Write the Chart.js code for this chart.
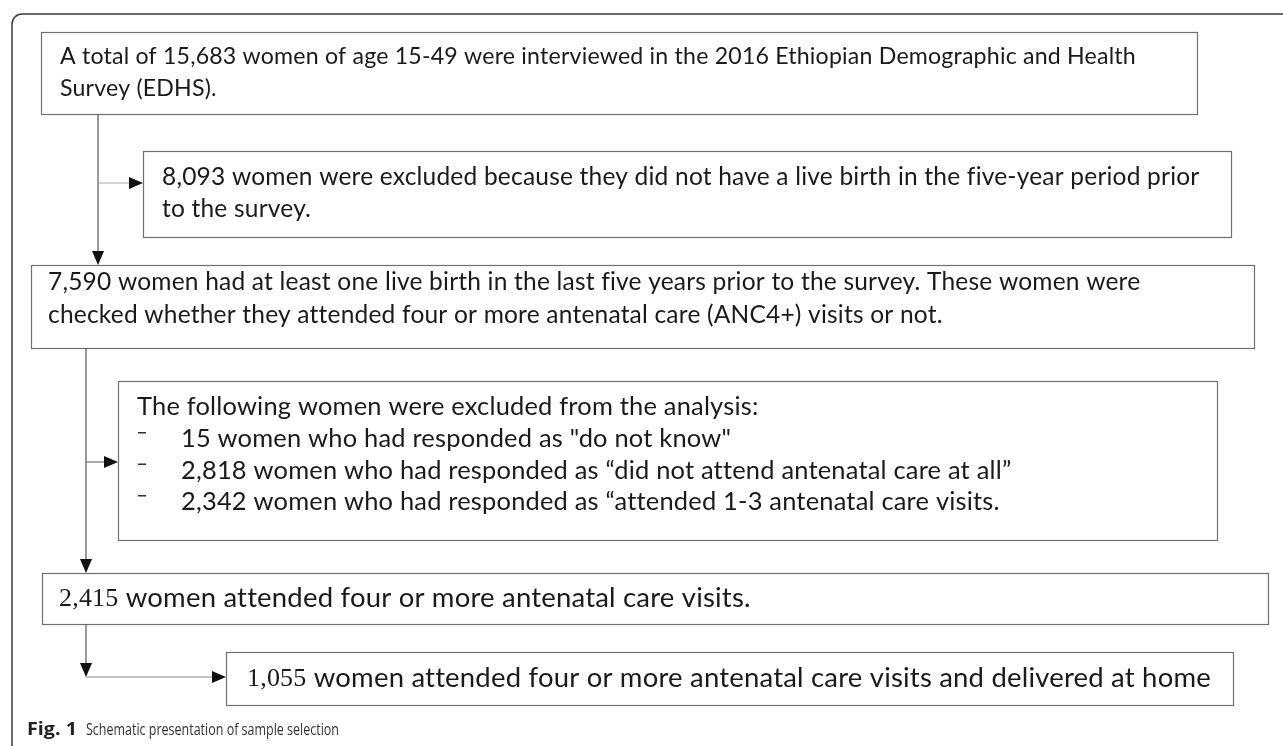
<!DOCTYPE html>
<html>
<head>
<meta charset="utf-8">
<script src="https://cdn.jsdelivr.net/npm/chart.js@4.4.1/dist/chart.umd.min.js"></script>
<style>
  html, body { margin: 0; padding: 0; background: #fff; }
  canvas { display: block; }
</style>
</head>
<body>
<canvas id="flow" width="1283" height="746"></canvas>
<script>
// counts shown in the flow
const totalWomen = 15683
const noLiveBirth = 8093
const withLiveBirth = 7590
const excludedCounts = [15, 2818, 2342]
const attendedAnc4 = 2415
const deliveredHome = 1055

const fmt = n => n.toLocaleString('en-US')

const box1Lines = [
    `A total of ${fmt(totalWomen)} women of age 15-49 were interviewed in the 2016 Ethiopian Demographic and Health`,
    'Survey (EDHS).'
]
const box2Lines = [
    `${fmt(noLiveBirth)} women were excluded because they did not have a live birth in the five-year period prior`,
    'to the survey.'
]
const box3Lines = [
    `${fmt(withLiveBirth)} women had at least one live birth in the last five years prior to the survey. These women were`,
    'checked whether they attended four or more antenatal care (ANC4+) visits or not.'
]
const box4Header = 'The following women were excluded from the analysis:'
const excludedReasons = [
    'who had responded as "do not know"',
    'who had responded as \u201cdid not attend antenatal care at all\u201d',
    'who had responded as \u201cattended 1-3 antenatal care visits.'
]
const box5Rest = ' women attended four or more antenatal care visits.'
const box6Rest = ' women attended four or more antenatal care visits and delivered at home'
const captionBold = 'Fig. 1'
const captionText = 'Schematic presentation of sample selection'

// layout (page units, y down)
const rects = [
    [41, 32, 1197, 114],
    [143, 151, 1231, 237],
    [31, 265, 1254, 348],
    [118, 381, 1217, 540],
    [42, 573, 1268, 624],
    [226, 652, 1233, 705]
]

const sans = 'Lato'
const serif = '"Liberation Serif"'

function fitSize(ctx, text, family, weight, target, base) {
    ctx.font = `${weight} ${base}px ${family}`
    return base * target / ctx.measureText(text).width
}

const flowPlugin = {
    id: 'flow',
    afterDraw(chart) {
        const ctx = chart.ctx
        const xs = chart.scales.x
        const ys = chart.scales.y
        const px = v => xs.getPixelForValue(v)
        const py = v => ys.getPixelForValue(v)

        ctx.save()

        // outer frame
        ctx.strokeStyle = '#3a3a3a'
        ctx.lineWidth = 1.5
        ctx.beginPath()
        ctx.moveTo(px(12), py(746))
        ctx.lineTo(px(12), py(24))
        ctx.arcTo(px(12), py(14), px(22), py(14), 10)
        ctx.lineTo(px(1283), py(14))
        ctx.stroke()

        // boxes
        ctx.strokeStyle = '#707070'
        ctx.lineWidth = 1.2
        rects.forEach(r => {
            ctx.strokeRect(px(r[0]) + 0.5, py(r[1]) + 0.5, px(r[2]) - px(r[0]), py(r[3]) - py(r[1]))
        })

        // connectors
        const line = (x1, y1, x2, y2, col) => {
            ctx.strokeStyle = col
            ctx.lineWidth = 1.2
            ctx.beginPath()
            ctx.moveTo(px(x1), py(y1))
            ctx.lineTo(px(x2), py(y2))
            ctx.stroke()
        }
        const headDown = (x, y) => {
            ctx.fillStyle = '#111'
            ctx.beginPath()
            ctx.moveTo(px(x), py(y))
            ctx.lineTo(px(x - 6), py(y - 14))
            ctx.lineTo(px(x + 6), py(y - 14))
            ctx.closePath()
            ctx.fill()
        }
        const headRight = (x, y) => {
            ctx.fillStyle = '#111'
            ctx.beginPath()
            ctx.moveTo(px(x), py(y))
            ctx.lineTo(px(x - 14), py(y - 6))
            ctx.lineTo(px(x - 14), py(y + 6))
            ctx.closePath()
            ctx.fill()
        }
        line(98, 114, 98, 253, '#555')
        headDown(98, 265)
        line(98, 183, 131, 183, '#aaa')
        headRight(143, 183)

        line(86, 348, 86, 561, '#555')
        headDown(86, 573)
        line(86, 462, 106, 462, '#777')
        headRight(118, 462)

        line(86, 624, 86, 665, '#555')
        headDown(86, 677)
        line(86, 677, 214, 677, '#888')
        headRight(226, 677)

        // text, each box sized so its longest line spans as in the figure
        ctx.letterSpacing = '0.2px'
        ctx.textBaseline = 'middle'
        ctx.textAlign = 'left'
        const ink = '#1a1a1a'
        const put = (t, x, y) => ctx.fillText(t, px(x), py(y))
        const block = (lines, x, right, y0, step) => {
            const s = fitSize(ctx, lines[0], sans, 'normal', right - x, 22)
            ctx.font = `${s}px ${sans}`
            ctx.fillStyle = ink
            lines.forEach((t, i) => put(t, x, y0 + i * step))
        }
        block(box1Lines, 60, 1138, 57, 32)
        block(box2Lines, 162, 1202, 177, 32)
        block(box3Lines, 48, 1143, 282, 33)

        const bulletLines = excludedCounts.map((n, i) => `${fmt(n)} women ${excludedReasons[i]}`)
        const s4 = fitSize(ctx, bulletLines[1], sans, 'normal', 1014 - 181, 22)
        ctx.font = `${s4}px ${sans}`
        ctx.fillStyle = ink
        put(box4Header, 137, 407)
        bulletLines.forEach((t, i) => {
            const y = 439 + i * 31.5
            ctx.fillStyle = '#333'
            ctx.fillRect(px(138), py(y - 7), 8, 1.5)
            ctx.fillStyle = ink
            put(t, 181, y)
        })

        // last two boxes: serif count followed by sans text in one shared size
        ctx.font = `26px ${serif}`
        const w6 = ctx.measureText(fmt(deliveredHome)).width
        const s6 = fitSize(ctx, box6Rest, sans, 'normal', 1215 - 247 - w6, 22)
        const mixed = (num, rest, x, y) => {
            ctx.font = `26px ${serif}`
            ctx.fillStyle = ink
            const n = fmt(num)
            put(n, x, y + 1)
            const w = ctx.measureText(n).width
            ctx.font = `${s6}px ${sans}`
            put(rest, x + w, y)
        }
        mixed(attendedAnc4, box5Rest, 59, 598)
        mixed(deliveredHome, box6Rest, 247, 678)

        // caption, condensed to the figure's width
        ctx.letterSpacing = '0px'
        const squeeze = (t, font, col, x, right, y) => {
            ctx.font = font
            ctx.fillStyle = col
            const sx = (right - x) / ctx.measureText(t).width
            ctx.save()
            ctx.translate(px(x), py(y))
            ctx.scale(sx, 1)
            ctx.fillText(t, 0, 0)
            ctx.restore()
        }
        squeeze(captionBold, 'bold 17px "Open Sans"', '#222', 27, 77, 730)
        squeeze(captionText, '17px "Open Sans"', '#333', 86, 339, 730)

        ctx.restore()
    }
}

new Chart(document.getElementById('flow'), {
    type: 'scatter',
    data: { datasets: [{ data: [], pointRadius: 0 }] },
    options: {
        responsive: false,
        animation: false,
        layout: { padding: 0 },
        plugins: { legend: { display: false }, tooltip: { enabled: false } },
        scales: {
            x: { type: 'linear', min: 0, max: 1283, display: false },
            y: { type: 'linear', min: 0, max: 746, reverse: true, display: false }
        }
    },
    plugins: [flowPlugin]
})
</script>
</body>
</html>
